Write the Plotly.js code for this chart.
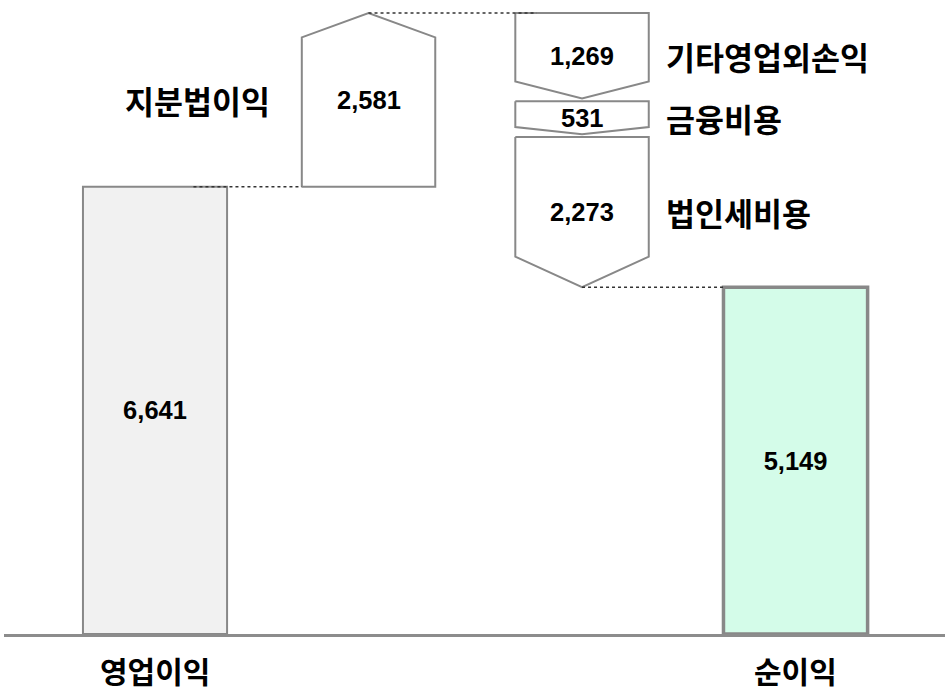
<!DOCTYPE html>
<html>
<head>
<meta charset="utf-8">
<script src="https://cdn.plot.ly/plotly-3.0.1.min.js"></script>
<style>html,body{margin:0;padding:0;background:#fff;}#chart{width:945px;height:694px;}</style>
</head>
<body>
<div id="chart"></div>
<script>
// ---- data ----
const categories = ['영업이익', '지분법이익', '기타영업외손익', '금융비용', '법인세비용', '순이익'];
const values = [6641, 2581, -1269, -531, -2273, 5149];
const valueLabels = ['6,641', '2,581', '1,269', '531', '2,273', '5,149'];
const kinds = ['total', 'relative', 'relative', 'relative', 'relative', 'total'];

// ---- layout / style constants ----
const column = [0, 1, 2, 2, 2, 3];
const sideLabelSide = [null, 'left', 'right', 'right', 'right', null];
const barWidth = 0.675, arrowWidth = 0.625;
const incNotch = 0.14, decNotch = 0.2, gap = 40;
const outline = '#888888';
const numFont = {family: 'Liberation Sans, Arial, sans-serif', size: 25.5, color: '#000'};
const korFont = {family: 'Noto Sans CJK KR, sans-serif', size: 31.5, color: '#000'};
const korFontBottom = {family: 'Noto Sans CJK KR, sans-serif', size: 30, color: '#000'};

const traces = [];
const annotations = [];

// compute running positions
let run = 0;
const starts = [], ends = [];
values.forEach((v, i) => {
  if (kinds[i] === 'total') { starts.push(0); ends.push(v); run = v; }
  else { starts.push(run); ends.push(run + v); run += v; }
});

// total bars
const totalIdx = kinds.map((k, i) => k === 'total' ? i : -1).filter(i => i >= 0);
traces.push({
  type: 'bar',
  x: totalIdx.map(i => column[i]),
  y: totalIdx.map(i => values[i]),
  width: barWidth,
  text: totalIdx.map(i => '<b>' + valueLabels[i] + '</b>'),
  textposition: 'inside',
  insidetextanchor: 'middle',
  textfont: numFont,
  marker: {color: ['#f1f1f1', '#d4fce9'], line: {color: outline, width: [2, 3.5]}},
  hoverinfo: 'skip', showlegend: false
});

// arrows
let prevWasDec = false;
values.forEach((v, i) => {
  if (kinds[i] !== 'relative') { prevWasDec = false; return; }
  const c = column[i], h = arrowWidth / 2;
  let xs, ys, s = starts[i], e = ends[i];
  if (v > 0) {
    const n = v * incNotch;
    xs = [c - h, c - h, c, c + h, c + h, c - h];
    ys = [s, e - n, e, e - n, s, s];
    prevWasDec = false;
  } else {
    if (prevWasDec) s -= gap;
    const n = -v * decNotch;
    xs = [c - h, c + h, c + h, c, c - h, c - h];
    ys = [s, s, e + n, e, e + n, s];
    prevWasDec = true;
  }
  traces.push({type: 'scatter', mode: 'lines', x: xs, y: ys, fill: 'toself', fillcolor: '#ffffff',
    line: {color: outline, width: 2}, hoverinfo: 'skip', showlegend: false});
  const mid = (s + e) / 2;
  annotations.push({x: c, y: mid, xref: 'x', yref: 'y', text: '<b>' + valueLabels[i] + '</b>',
    showarrow: false, font: numFont, xanchor: 'center', yanchor: 'middle'});
  if (sideLabelSide[i] === 'left') {
    annotations.push({x: c - 0.45, y: mid, xref: 'x', yref: 'y', text: '<b>' + categories[i] + '</b>',
      showarrow: false, font: korFont, xanchor: 'right', yanchor: 'middle'});
  } else if (sideLabelSide[i] === 'right') {
    annotations.push({x: c + 0.385, y: mid, xref: 'x', yref: 'y', text: '<b>' + categories[i] + '</b>',
      showarrow: false, font: korFont, xanchor: 'left', yanchor: 'middle'});
  }
});

// dotted connectors
const dot = {color: '#333333', width: 1.5, dash: 'dot'};
const connectors = [
  {x: [column[0] + 0.18, column[1] - arrowWidth / 2], y: [ends[0], ends[0]]},
  {x: [column[1], column[2] - arrowWidth / 2 + 0.1], y: [ends[1], ends[1]]},
  {x: [column[4], column[5] - barWidth / 2], y: [ends[4], ends[4]]}
];
connectors.forEach(cn => traces.push({type: 'scatter', mode: 'lines', x: cn.x, y: cn.y, line: dot,
  hoverinfo: 'skip', showlegend: false}));

// category labels for totals
totalIdx.forEach(i => annotations.push({x: column[i], y: 0, xref: 'x', yref: 'paper', yshift: -36,
  text: '<b>' + categories[i] + '</b>', showarrow: false, font: korFontBottom, xanchor: 'center', yanchor: 'middle'}));

const layout = {
  width: 945, height: 694,
  margin: {l: 4, r: 0, t: 0, b: 60},
  paper_bgcolor: '#ffffff', plot_bgcolor: '#ffffff',
  xaxis: {range: [-0.7073, 3.700], showgrid: false, zeroline: false, showticklabels: false, ticks: '',
    showline: true, linecolor: '#8c8c8c', linewidth: 3, fixedrange: true},
  yaxis: {range: [0, 9415], visible: false, fixedrange: true},
  annotations: annotations,
  showlegend: false
};

Plotly.newPlot('chart', traces, layout, {displayModeBar: false, staticPlot: true});
</script>
</body>
</html>
